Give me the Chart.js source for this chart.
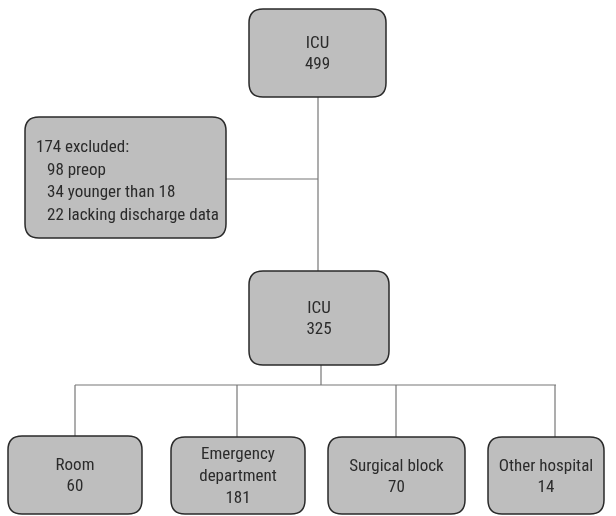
<!DOCTYPE html>
<html>
<head>
<meta charset="utf-8">
<script src="https://cdn.jsdelivr.net/npm/chart.js@4.4.1/dist/chart.umd.min.js"></script>
<style>
html,body{margin:0;padding:0;background:#fff;}
#wrap{width:616px;height:516px;}
</style>
</head>
<body>
<div id="wrap"><canvas id="c" width="616" height="516"></canvas></div>
<script>
// ---- data ----
const nodeNames = ["ICU", "excluded", "ICU", "Room", "Emergency\ndepartment", "Surgical block", "Other hospital"];
const nodeCounts = [499, 174, 325, 60, 181, 70, 14];
const exclusionReasons = ["preop", "younger than 18", "lacking discharge data"];
const exclusionCounts = [98, 34, 22];

// ---- layout (box geometry in scale units) ----
const boxLeft   = [249, 25, 249, 8, 171, 328, 488];
const boxRight  = [386, 226, 389, 142, 305, 465, 604];
const boxTop    = [9, 117, 271, 436, 437, 437, 437];
const boxBottom = [97, 238, 365, 514, 514, 514, 514];
// connectors: [x1,y1,x2,y2]
const connectors = [
  [318, 97, 318, 271],
  [226, 179, 318, 179],
  [321, 365, 321, 385],
  [75, 385, 556, 385],
  [75, 385, 75, 436],
  [237, 385, 237, 437],
  [396, 385, 396, 437],
  [555, 385, 555, 437]
];

const FONT = '"Liberation Sans Narrow", "Arial Narrow", "Roboto Condensed", sans-serif';

function nodeLines(i) {
  if (i === 1) {
    const lines = [nodeCounts[1] + " excluded:"];
    exclusionReasons.forEach((r, k) => lines.push("  " + exclusionCounts[k] + " " + r));
    return lines;
  }
  return nodeNames[i].split("\n").concat([String(nodeCounts[i])]);
}

function roundRect(ctx, x, y, w, h, r) {
  ctx.beginPath();
  ctx.moveTo(x + r, y);
  ctx.lineTo(x + w - r, y);
  ctx.quadraticCurveTo(x + w, y, x + w, y + r);
  ctx.lineTo(x + w, y + h - r);
  ctx.quadraticCurveTo(x + w, y + h, x + w - r, y + h);
  ctx.lineTo(x + r, y + h);
  ctx.quadraticCurveTo(x, y + h, x, y + h - r);
  ctx.lineTo(x, y + r);
  ctx.quadraticCurveTo(x, y, x + r, y);
  ctx.closePath();
}

const boxPlugin = {
  id: 'boxes',
  afterDatasetsDraw(chart) {
    const ctx = chart.ctx;
    const xs = chart.scales.x, ys = chart.scales.y;
    ctx.save();
    for (let i = 0; i < nodeNames.length; i++) {
      const x1 = xs.getPixelForValue(boxLeft[i]);
      const x2 = xs.getPixelForValue(boxRight[i]);
      const y1 = ys.getPixelForValue(boxTop[i]);
      const y2 = ys.getPixelForValue(boxBottom[i]);
      roundRect(ctx, x1, y1, x2 - x1, y2 - y1, 14);
      ctx.fillStyle = '#bebebe';
      ctx.fill();
      ctx.lineWidth = 1.5;
      ctx.strokeStyle = '#2a2a2a';
      ctx.stroke();
      const lines = nodeLines(i);
      ctx.fillStyle = '#2b2b2b';
      ctx.font = '17px ' + FONT;
      ctx.textBaseline = 'middle';
      const lh = i === 1 ? 22.5 : (lines.length > 2 ? 22 : 21);
      const cy = (y1 + y2) / 2 + (i === 1 ? 4 : 1.5);
      const start = cy - (lines.length - 1) * lh / 2;
      lines.forEach((t, k) => {
        if (i === 1) {
          ctx.textAlign = 'left';
          ctx.fillText(t.trim(), x1 + (t.startsWith("  ") ? 22 : 11), start + k * lh);
        } else {
          ctx.textAlign = 'center';
          ctx.fillText(t, (x1 + x2) / 2, start + k * lh);
        }
      });
    }
    ctx.restore();
  }
};

const datasets = connectors.map(c => ({
  type: 'line',
  data: [{x: c[0], y: c[1]}, {x: c[2], y: c[3]}],
  borderColor: '#777777',
  borderWidth: 1.2,
  pointRadius: 0,
  fill: false,
  tension: 0
}));

new Chart(document.getElementById('c'), {
  type: 'scatter',
  data: { datasets },
  options: {
    responsive: false,
    animation: false,
    events: [],
    layout: { padding: 0 },
    plugins: { legend: { display: false }, tooltip: { enabled: false } },
    scales: {
      x: { type: 'linear', min: 0, max: 616, display: false },
      y: { type: 'linear', min: 0, max: 516, reverse: true, display: false }
    }
  },
  plugins: [boxPlugin]
});
</script>
</body>
</html>
